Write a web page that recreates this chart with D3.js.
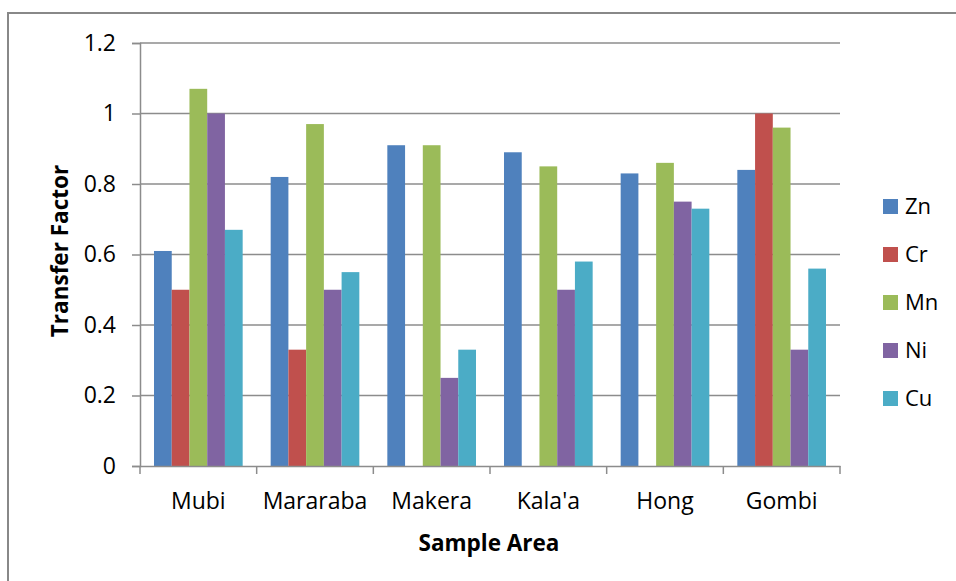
<!DOCTYPE html>
<html>
<head>
<meta charset="utf-8">
<script src="https://cdn.jsdelivr.net/npm/d3@7"></script>
<style>
  body { margin: 0; background: #fff; }
  text { font-family: "Open Sans", Lato, sans-serif; fill: #000; }
</style>
</head>
<body>
<div id="viz_container" style="width:956px;height:581px"></div>
<script>
const areas = ["Mubi", "Mararaba", "Makera", "Kala'a", "Hong", "Gombi"];
const metals = ["Zn", "Cr", "Mn", "Ni", "Cu"];
const zn = [0.61, 0.82, 0.91, 0.89, 0.83, 0.84];
const cr = [0.5, 0.33, 0, 0, 0, 1.0];
const mn = [1.07, 0.97, 0.91, 0.85, 0.86, 0.96];
const ni = [1.0, 0.5, 0.25, 0.5, 0.75, 0.33];
const cu = [0.67, 0.55, 0.33, 0.58, 0.73, 0.56];
const yTicks = [0, 0.2, 0.4, 0.6, 0.8, 1, 1.2];
const colors = ["#4F81BD", "#C0504D", "#9BBB59", "#8064A2", "#4BACC6"];

const seriesValues = [zn, cr, mn, ni, cu];

const width = 956;
const height = 581;
const fontSize = "23px";

const svg = d3
  .select("#viz_container")
  .append("svg")
  .attr("width", width)
  .attr("height", height);

// outer chart border
svg.append("rect")
  .attr("x", 8).attr("y", 13)
  .attr("width", 960).attr("height", 600)
  .attr("fill", "none")
  .attr("stroke", "#888")
  .attr("stroke-width", 2);

const plot = { left: 140, right: 840, top: 43, bottom: 466 };

const x0 = d3.scaleBand().domain(areas).range([plot.left, plot.right]);
const x1 = d3.scaleBand()
  .domain(metals)
  .range([14, x0.bandwidth() - 14]);
const y = d3.scaleLinear().domain([0, 1.2]).range([plot.bottom, plot.top]);

// gridlines
svg.append("g")
  .selectAll("line")
  .data(yTicks.filter((d) => d > 0))
  .enter()
  .append("line")
  .attr("x1", plot.left).attr("x2", plot.right)
  .attr("y1", (d) => y(d)).attr("y2", (d) => y(d))
  .attr("stroke", "#8c8c8c")
  .attr("stroke-width", 1.5);

// bars
const groups = svg.append("g")
  .selectAll("g")
  .data(areas)
  .enter()
  .append("g")
  .attr("transform", (d) => `translate(${x0(d)},0)`);

groups.selectAll("rect")
  .data((d, i) => metals.map((m, j) => ({ metal: m, value: seriesValues[j][i], color: colors[j] })))
  .enter()
  .append("rect")
  .attr("x", (d) => x1(d.metal))
  .attr("width", x1.bandwidth())
  .attr("y", (d) => y(d.value))
  .attr("height", (d) => y(0) - y(d.value))
  .attr("fill", (d) => d.color);

// y axis
const yAxis = svg.append("g")
  .attr("transform", `translate(${plot.left},0)`)
  .call(d3.axisLeft(y).tickValues(yTicks).tickSize(8).tickPadding(16)
    .tickFormat((d) => String(+d.toFixed(1))));
yAxis.select(".domain").attr("stroke", "#8c8c8c").attr("stroke-width", 1.5);
yAxis.selectAll(".tick line").attr("stroke", "#8c8c8c").attr("stroke-width", 1.5);
yAxis.selectAll("text").style("font-size", fontSize);

// x axis
const xAxis = svg.append("g")
  .attr("transform", `translate(0,${plot.bottom})`)
  .call(d3.axisBottom(x0).tickSize(0).tickPadding(27));
xAxis.select(".domain").attr("stroke", "#8c8c8c").attr("stroke-width", 1.5);
xAxis.selectAll("text").style("font-size", fontSize);
xAxis.selectAll(".boundary")
  .data(d3.range(areas.length + 1))
  .enter()
  .append("line")
  .attr("x1", (i) => plot.left + i * x0.step())
  .attr("x2", (i) => plot.left + i * x0.step())
  .attr("y1", 0).attr("y2", 8)
  .attr("stroke", "#8c8c8c")
  .attr("stroke-width", 1.5);

// axis titles
svg.append("text")
  .attr("x", (plot.left + plot.right) / 2 - 1)
  .attr("y", 551)
  .attr("text-anchor", "middle")
  .style("font-size", "22.5px")
  .style("font-weight", "bold")
  .text("Sample Area");

svg.append("text")
  .attr("transform", "translate(68,251) rotate(-90)")
  .attr("text-anchor", "middle")
  .style("font-size", "22.5px")
  .style("font-weight", "bold")
  .text("Transfer Factor");

// legend
const legend = svg.append("g")
  .selectAll("g")
  .data(metals)
  .enter()
  .append("g")
  .attr("transform", (d, i) => `translate(883,${206 + i * 48})`);
legend.append("rect")
  .attr("x", 0).attr("y", -7)
  .attr("width", 15).attr("height", 15)
  .attr("fill", (d, i) => colors[i]);
legend.append("text")
  .attr("x", 22).attr("y", 0)
  .attr("dy", "0.35em")
  .style("font-size", "22px")
  .text((d) => d);
</script>
</body>
</html>
